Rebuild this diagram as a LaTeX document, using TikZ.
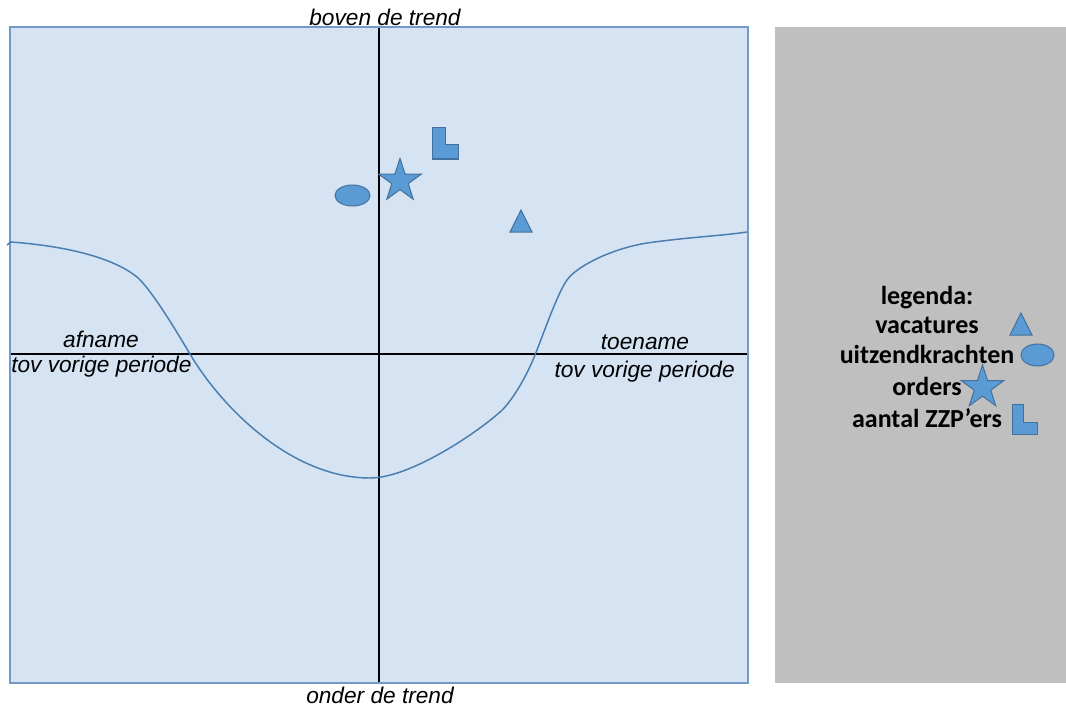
\documentclass[tikz,border=0pt]{standalone}
\usepackage{fontspec}
\setmainfont{Liberation Sans}
\newfontfamily\legendfont{Carlito}
\usetikzlibrary{shapes.geometric}
\definecolor{panelblue}{HTML}{D5E3F2}
\definecolor{paneledge}{HTML}{729AC8}
\definecolor{markfill}{HTML}{5B9BD5}
\definecolor{markedge}{HTML}{41719C}
\definecolor{curveblue}{HTML}{4A7DB0}
\definecolor{legendgray}{HTML}{BFBFBF}
\tikzset{
  symbolshape/.style={fill=markfill, draw=markedge, line width=0.75pt},
  axislabel/.style={font=\fontsize{17}{20}\selectfont\itshape, inner sep=0pt, anchor=base},
  legendentry/.style={font=\legendfont\bfseries\fontsize{19.5}{23}\selectfont, inner sep=0pt, anchor=base},
}
\begin{document}
\begin{tikzpicture}[x=0.75pt, y=-0.75pt]
  \useasboundingbox (0,0) rectangle (1066,706);
  % panels
  \fill[panelblue] (10,27) rectangle (748,683);
  \fill[legendgray] (775,27) rectangle (1066,683);
  % axes
  \coordinate (left) at (10,354);
  \coordinate (right) at (748,354);
  \coordinate (top) at (379,27);
  \coordinate (bottom) at (379,683);
  \draw[line width=1.5pt] (left) -- (right);
  \draw[line width=1.5pt] (top) -- (bottom);
  \draw[paneledge, line width=1.5pt] (10,27) rectangle (748,683);
  % trend curve
  \draw[curveblue, line width=1.1pt] (7,245) -- (11,242)
    .. controls (65,246) and (112,257) .. (137,277)
    .. controls (152,290) and (178,334) .. (190,354)
    .. controls (220,405) and (290,478) .. (370,478)
    .. controls (415,478) and (492,422) .. (505,407)
    .. controls (518,392) and (529,370) .. (535,355)
    .. controls (543,335) and (558,292) .. (567,280)
    .. controls (576,267) and (610,249) .. (647,243)
    .. controls (690,237) and (720,236) .. (747,232);
  % axis texts
  \node[axislabel] (boven) at (385,26) {boven de trend};
  \node[axislabel] (onder) at (380,703) {onder de trend};
  \node[axislabel] (afname) at (101,347) {afname};
  \node[axislabel, anchor=base west] (tovleft) at (11,372) {tov vorige periode};
  \node[axislabel] (toename) at (645,349) {toename};
  \node[axislabel, anchor=base east] (tovright) at (735,377) {tov vorige periode};
  % data symbols
  \draw[symbolshape] (352.5,195.5) ellipse [x radius=17.5, y radius=10.5];
  \node[symbolshape, star, star points=5, star point ratio=2.6, inner sep=0pt,
        minimum size=33.75pt] (orders) at (400,181) {};
  \draw[symbolshape] (432,128) -- (445,128) -- (445,145) -- (458,145)
    -- (458,159) -- (432,159) -- cycle;
  \draw[symbolshape] (510,232) -- (521,210) -- (532,232) -- cycle;
  % legend
  \node[legendentry] (legenda) at (927,304) {legenda:};
  \node[legendentry] (vacatures) at (927,333) {vacatures};
  \node[legendentry] (uitzend) at (927,363) {uitzendkrachten};
  \node[legendentry] (orderstxt) at (927,395) {orders};
  \node[legendentry] (zzp) at (927,427) {aantal ZZP’ers};
  \draw[symbolshape] (1010,335) -- (1021,313) -- (1032,335) -- cycle;
  \draw[symbolshape] (1037.5,355) ellipse [x radius=16.5, y radius=11];
  \node[symbolshape, star, star points=5, star point ratio=2.6, inner sep=0pt,
        minimum size=33.75pt] (legendstar) at (982.5,387.5) {};
  \draw[symbolshape] (1012,404) -- (1023,404) -- (1023,422) -- (1037,422)
    -- (1037,434) -- (1012,434) -- cycle;
\end{tikzpicture}
\end{document}
